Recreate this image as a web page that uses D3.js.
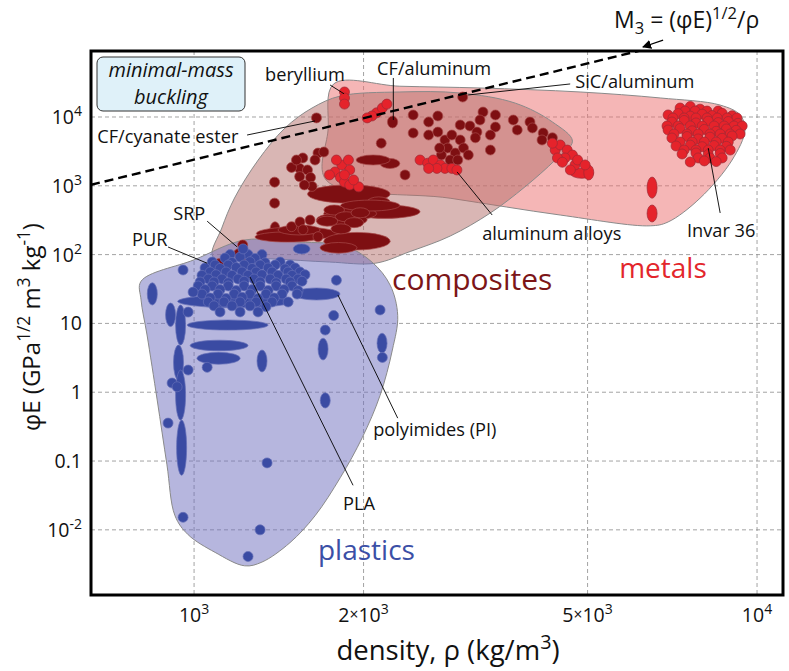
<!DOCTYPE html>
<html>
<head>
<meta charset="utf-8">
<script src="https://cdn.jsdelivr.net/npm/d3@7"></script>
<style>
  body { margin: 0; background: #fff; }
  svg { font-family: 'Open Sans', sans-serif; }
</style>
</head>
<body>
<div id="chart"></div>
<script>
// ---- data (density kg/m3, phiE GPa^1/2 m3 kg^-1) ----
const gridX = [1000, 2000, 5000, 10000];
const gridY = [0.01, 0.1, 1, 10, 100, 1000, 10000];
const xTickLabels = [
  [['10', ''], ['3', 'sup']],
  [['2', ''], ['×', 'x'], ['10', ''], ['3', 'sup']],
  [['5', ''], ['×', 'x'], ['10', ''], ['3', 'sup']],
  [['10', ''], ['4', 'sup']]
];
const yTickLabels = [
  [['10', ''], ['-2', 'sup']],
  [['0.1', '']],
  [['1', '']],
  [['10', '']],
  [['10', ''], ['2', 'sup']],
  [['10', ''], ['3', 'sup']],
  [['10', ''], ['4', 'sup']]
];

// material family envelopes
const metalsHull = [
  [1770, 30200], [2320, 28000], [3220, 26400], [4850, 23100], [6730, 18900],
  [8600, 14900], [9330, 10700], [9520, 6470], [9030, 2370], [7920, 660],
  [6950, 298], [6460, 262], [4470, 376], [2850, 660], [1716, 1215], [1730, 6470]
];
const compositesHull = [
  [1080, 93], [1120, 243], [1180, 665], [1300, 2370], [1450, 6900], [1620, 13500],
  [1820, 20200], [2320, 23100], [2970, 22300], [3720, 15900], [4330, 8470],
  [4700, 4460], [4380, 2370], [3870, 965], [3360, 403], [2850, 186], [2420, 111],
  [2100, 75], [1740, 78], [1365, 87]
];
const plasticsHull = [
  [805, 41], [1000, 84], [1230, 163], [1540, 152], [1850, 134], [2070, 78],
  [2230, 36], [2300, 13], [2250, 4.1], [2140, 0.9], [1990, 0.22], [1820, 0.058],
  [1640, 0.016], [1480, 0.0065], [1320, 0.0034], [1230, 0.003], [1090, 0.0047],
  [976, 0.0085], [925, 0.016], [895, 0.088], [860, 0.77], [825, 6.8], [805, 22]
];

// single materials: points [rho, phiE], ranges [rhoLo, rhoHi, eLo, eHi]
const compositePoints = [
  [1650, 9700], [3000, 19500],
  [2450, 10700], [2610, 8470], [2710, 10350], [2450, 5850], [2610, 5470], [2710, 6040],
  [2970, 7650], [3090, 7400], [3260, 11800], [3430, 10700], [3220, 9040], [3430, 7150],
  [3360, 5470], [3180, 6040], [3160, 4990], [3690, 9040], [3750, 6470], [3950, 8470],
  [3990, 6930], [4170, 5850], [4150, 4630], [4330, 4990], [3360, 3310],
  [2790, 4630], [2870, 5470], [2970, 4630], [2820, 3540], [2910, 2990], [3010, 3540],
  [3070, 2800], [2750, 2800], [2850, 2370], [2940, 2370], [2730, 3540],
  [2370, 1440], [2150, 4160],
  [1560, 2540], [1540, 1790], [1540, 1360], [1590, 1700], [1610, 1320], [1620, 980],
  [1490, 1850], [1660, 2990], [1700, 3100], [1640, 2370], [1570, 1030], [1520, 2370],
  [1390, 1130], [1390, 560], [1490, 255], [1660, 182], [1542, 298], [1607, 318], [1561, 230],
  [1220, 138], [1200, 103], [1225, 93], [1110, 74]
];
const compositeRanges = [
  [2205, 2300, 6930, 10350], [2140, 2320, 1880, 2370], [1940, 2230, 2010, 2800],
  [1375, 1410, 180, 300], [1590, 2230, 560, 1030], [1890, 2520, 336, 526],
  [2030, 2230, 490, 690], [1700, 2110, 318, 490], [1650, 2030, 255, 405],
  [1290, 1800, 163, 252], [1283, 1674, 152, 214], [1410, 1674, 193, 270],
  [1700, 2230, 117, 210], [1674, 1948, 105, 150], [1820, 2320, 430, 620],
  [1700, 1850, 380, 520], [1780, 1950, 300, 420], [1850, 2000, 250, 340],
  [1750, 1900, 200, 280], [1900, 2050, 350, 470], [1650, 1800, 260, 360]
];
const metalPoints = [
  [1850, 23100], [1850, 18900], [1850, 15400],
  [2110, 11500], [2160, 13500], [2200, 15400], [2070, 10350], [2030, 9700],
  [1780, 1590], [1820, 1320], [1850, 1130], [1890, 1030], [1960, 965], [1830, 2010],
  [1880, 2370], [1890, 1700], [1790, 2370], [1740, 1440], [1850, 1440], [1920, 1215],
  [2520, 2370], [2600, 2130], [2660, 2370], [2740, 2010], [2790, 1790], [2870, 1790],
  [2700, 1790], [2930, 1700], [2610, 1790],
  [4380, 3310], [4470, 3920], [4600, 3310], [4700, 2800], [4560, 2540], [4420, 2540],
  [4750, 2010], [4660, 1700], [4510, 2200], [4800, 2370], [4950, 2010], [4330, 4160],
  // Invar / steels cluster
  [7300, 13500], [7610, 14200], [7920, 13000],
  [7450, 12200], [7760, 12200], [8150, 12200], [8530, 12200],
  [6950, 10700], [7240, 11200], [7610, 10300], [7990, 11000], [8320, 10500], [8670, 11300], [9030, 10400],
  [7090, 9670], [7420, 9670], [7790, 9670], [8150, 9670], [8500, 9670], [8850, 9670], [9210, 9670],
  [7060, 8460], [7420, 8900], [7790, 8200], [8190, 8700], [8530, 8300], [8890, 8600], [9250, 8100],
  [6920, 7400], [7240, 7400], [7610, 7400], [7990, 7400], [8390, 7400], [8740, 7400], [9100, 7400], [9410, 7400],
  [6950, 6470], [7300, 6800], [7670, 6300], [8060, 6600], [8460, 6200], [8820, 6700], [9180, 6400],
  [7120, 5660], [7510, 5660], [7860, 5660], [8250, 5660], [8600, 5660], [8960, 5660], [9330, 5660],
  [7060, 4950], [7510, 5200], [7860, 4800], [8250, 5100], [8670, 4900], [9030, 5300],
  [7300, 4330], [7670, 4330], [8060, 4330], [8460, 4330], [8890, 4330],
  [7180, 3790], [7610, 3900], [7990, 3700], [8390, 3850], [8820, 3750],
  [7420, 3310], [7790, 3310], [8190, 3310], [8600, 3310], [8960, 3310],
  [7360, 2900], [7790, 3000], [8190, 2850], [8600, 2950],
  [7860, 2540], [8250, 2540], [8670, 2540],
  [7610, 2220], [8060, 2300], [8460, 2250]
];
const metalRanges = [
  [4660, 5120, 1360, 1700], [4960, 5090, 1215, 2010],
  [6430, 6590, 660, 1340], [6430, 6590, 298, 526]
];
const plasticPoints = [
  [1159, 100], [1247, 100], [1320, 100],
  [1135, 89], [1207, 92], [1283, 88],
  [1077, 78], [1168, 77], [1257, 79], [1337, 76], [1422, 78],
  [1090, 70.6], [1150, 70.6], [1227, 70.6], [1310, 70.6], [1393, 70.6], [1481, 70.6],
  [1046, 64], [1112, 63], [1188, 65], [1268, 63], [1354, 64], [1451, 62], [1512, 64],
  [1068, 55.9], [1140, 55.9], [1217, 55.9], [1289, 55.9], [1376, 55.9], [1469, 55.9], [1542, 55.9],
  [1033, 50], [1094, 51], [1168, 50], [1247, 50], [1320, 51], [1410, 50], [1493, 50], [1574, 51],
  [1060, 44.2], [1121, 44.2], [1197, 44.2], [1278, 44.2], [1365, 44.2], [1457, 44.2], [1530, 44.2],
  [1025, 40], [1085, 40], [1150, 39], [1227, 41], [1310, 40], [1399, 39], [1481, 40], [1555, 41],
  [1017, 35], [1077, 35], [1150, 35], [1227, 35], [1310, 35], [1399, 35], [1493, 35],
  [1046, 31], [1112, 31], [1188, 30], [1268, 31], [1354, 30], [1445, 31], [1530, 30],
  [1033, 26.7], [1103, 26.7], [1178, 26.7], [1257, 26.7], [1342, 26.7], [1433, 26.7], [1524, 26.7],
  [1068, 23.5], [1140, 23], [1217, 24], [1299, 23], [1388, 23.5],
  [1060, 20.5], [1130, 20.5], [1207, 20.5], [1289, 20.5], [1376, 20.5], [1469, 20.5],
  [1085, 18], [1168, 18], [1257, 18], [1342, 17.5],
  [1112, 14.7], [1207, 14.7], [1299, 14.7],
  [1222, 121], [1770, 13], [1710, 8.0], [2140, 15.7], [2160, 3.2],
  [1348, 0.094], [1310, 0.010], [1247, 0.0041], [956, 0.0152],
  [914, 1.36], [899, 0.356], [956, 59.8], [996, 28.5], [976, 14.6],
  [1055, 2.3], [976, 2.1], [933, 1.2]
];
const plasticRanges = [
  [935, 1500, 16.9, 25.9], [972, 1354, 8.0, 11.2], [984, 1247, 4.0, 5.7],
  [1012, 1207, 2.55, 3.8], [1500, 1816, 21.9, 32.7], [1299, 1342, 1.97, 4.11],
  [1500, 1607, 106, 138], [1770, 1810, 36, 50], [1674, 1716, 2.94, 6.1],
  [1690, 1730, 0.59, 0.98], [2130, 2185, 3.71, 7.2],
  [929, 964, 4.85, 18.5], [921, 956, 1.5, 4.85], [929, 964, 0.394, 2.1],
  [933, 968, 0.062, 0.394], [829, 857, 18.5, 39], [892, 925, 9.0, 19.8]
];

// performance index line, phiE = (M3 * rho)^2
const m3 = 0.049;

const annotations = [
  { text: 'beryllium', at: [1337, 33300], from: [1744, 29200], to: [1847, 21700] },
  { text: 'CF/aluminum', at: [2114, 40800], from: [2259, 36900], to: [2259, 9040] },
  { text: 'SiC/aluminum', at: [4753, 26400], from: [4657, 30200], to: [3068, 20900] },
  { text: 'CF/cyanate ester', at: [673, 4190], from: [1242, 5470], to: [1640, 8750] },
  { text: 'aluminum alloys', at: [3249, 163], from: [2932, 1590], to: [3385, 376] },
  { text: 'Invar 36', at: [7510, 182], from: [8190, 3540], to: [8600, 403] },
  { text: 'SRP', at: [918, 318], from: [1055, 306], to: [1193, 129] },
  { text: 'PUR', at: [776, 133], from: [899, 129], to: [1055, 75] },
  { text: 'polyimides (PI)', at: [2080, 0.231], from: [1801, 25.9], to: [2300, 0.42] },
  { text: 'PLA', at: [1839, 0.0194], from: [1257, 47.3], to: [1916, 0.0444] }
];

const families = [
  { name: 'composites', at: [2247, 30.6], color: '#7c1518', size: 30 },
  { name: 'metals', at: [5690, 46], color: '#e3262b', size: 28 },
  { name: 'plastics', at: [1660, 0.0036], color: '#3b4fa6', size: 28 }
];

// ---- chart ----
const width = 789;
const height = 671;
const plot = { left: 91, top: 51, right: 783, bottom: 595 };

const x = d3.scaleLog().domain([656, 11120]).range([plot.left, plot.right]);
const y = d3.scaleLog().domain([0.00113, 91000]).range([plot.bottom, plot.top]);

const svg = d3
  .select('#chart')
  .append('svg')
  .attr('width', width)
  .attr('height', height);

svg
  .append('clipPath')
  .attr('id', 'plot-clip')
  .append('rect')
  .attr('x', plot.left)
  .attr('y', plot.top)
  .attr('width', plot.right - plot.left)
  .attr('height', plot.bottom - plot.top);

// superscript / subscript helper
const styles = { sup: [-0.4, 0.72], sub: [0.28, 0.72], x: [-0.12, 0.8] };
function rich(sel, parts, fs) {
  let shift = 0;
  parts.forEach(([s, kind]) => {
    const [off, scale] = kind ? styles[kind] : [0, 1];
    const t = sel.append('tspan').text(s);
    if (off !== shift) t.attr('dy', ((off - shift) * fs).toFixed(2));
    if (kind) t.attr('font-size', fs * scale);
    shift = off;
  });
}

const g = svg.append('g').attr('clip-path', 'url(#plot-clip)');

// grid
g.selectAll('.gx')
  .data(gridX)
  .enter()
  .append('line')
  .attr('x1', (d) => x(d))
  .attr('x2', (d) => x(d))
  .attr('y1', plot.top)
  .attr('y2', plot.bottom)
  .attr('stroke', '#8c8c8c')
  .attr('stroke-width', 0.8)
  .attr('stroke-dasharray', '4,3');

g.selectAll('.gy')
  .data(gridY)
  .enter()
  .append('line')
  .attr('x1', plot.left)
  .attr('x2', plot.right)
  .attr('y1', (d) => y(d))
  .attr('y2', (d) => y(d))
  .attr('stroke', '#8c8c8c')
  .attr('stroke-width', 0.8)
  .attr('stroke-dasharray', '4,3');

// envelopes
const hull = d3
  .line()
  .x((d) => x(d[0]))
  .y((d) => y(d[1]))
  .curve(d3.curveCatmullRomClosed.alpha(0.5));

[
  [metalsHull, 'rgb(235,110,110)'],
  [compositesHull, 'rgb(180,110,106)'],
  [plasticsHull, 'rgb(110,110,190)']
].forEach(([pts, fill]) => {
  g.append('path')
    .attr('d', hull(pts))
    .attr('fill', fill)
    .attr('fill-opacity', 0.5)
    .attr('stroke', '#8a8a8a')
    .attr('stroke-width', 1);
});

// materials
const r = 5;
function drawFamily(points, ranges, fill, stroke) {
  g.append('g')
    .selectAll('ellipse')
    .data(ranges)
    .enter()
    .append('ellipse')
    .attr('cx', (d) => x(Math.sqrt(d[0] * d[1])))
    .attr('cy', (d) => y(Math.sqrt(d[2] * d[3])))
    .attr('rx', (d) => Math.max(r, (x(d[1]) - x(d[0])) / 2))
    .attr('ry', (d) => Math.max(r, (y(d[2]) - y(d[3])) / 2))
    .attr('fill', fill)
    .attr('stroke', stroke)
    .attr('stroke-width', 0.7);

  g.append('g')
    .selectAll('circle')
    .data(points)
    .enter()
    .append('circle')
    .attr('cx', (d) => x(d[0]))
    .attr('cy', (d) => y(d[1]))
    .attr('r', r)
    .attr('fill', fill)
    .attr('stroke', stroke)
    .attr('stroke-width', 0.7);
}

drawFamily(compositePoints, compositeRanges, '#7e0f12', '#a84a4a');
drawFamily(metalPoints, metalRanges, '#e5232b', '#9e2a35');
drawFamily(plasticPoints, plasticRanges, '#3a4ba3', '#6670b8');

// M3 guide line
const rhoStart = x.domain()[0];
const rhoEnd = Math.sqrt(y.domain()[1]) / m3;
g.append('line')
  .attr('x1', x(rhoStart))
  .attr('y1', y((m3 * rhoStart) ** 2))
  .attr('x2', x(rhoEnd))
  .attr('y2', y((m3 * rhoEnd) ** 2))
  .attr('stroke', '#000')
  .attr('stroke-width', 2.4)
  .attr('stroke-dasharray', '9,5');

// annotations
annotations.forEach((a) => {
  g.append('line')
    .attr('x1', x(a.from[0]))
    .attr('y1', y(a.from[1]))
    .attr('x2', x(a.to[0]))
    .attr('y2', y(a.to[1]))
    .attr('stroke', '#000')
    .attr('stroke-width', 0.9);
  g.append('text')
    .attr('x', x(a.at[0]))
    .attr('y', y(a.at[1]))
    .attr('font-size', 18.2)
    .attr('fill', '#111')
    .text(a.text);
});

families.forEach((f) => {
  g.append('text')
    .attr('x', x(f.at[0]))
    .attr('y', y(f.at[1]))
    .attr('font-size', f.size)
    .attr('fill', f.color)
    .text(f.name);
});

// minimal-mass buckling box
const box = svg.append('g').attr('transform', `translate(${plot.left + 6},${plot.top + 6})`);
box
  .append('rect')
  .attr('width', 148)
  .attr('height', 54)
  .attr('rx', 6)
  .attr('fill', '#dff1f9')
  .attr('stroke', '#333')
  .attr('stroke-width', 1);
['minimal-mass', 'buckling'].forEach((s, i) => {
  box
    .append('text')
    .attr('x', 74)
    .attr('y', 20 + i * 27)
    .attr('text-anchor', 'middle')
    .attr('font-size', 20)
    .attr('font-style', 'italic')
    .attr('fill', '#111')
    .text(s);
});

// frame
svg
  .append('rect')
  .attr('x', plot.left)
  .attr('y', plot.top)
  .attr('width', plot.right - plot.left)
  .attr('height', plot.bottom - plot.top)
  .attr('fill', 'none')
  .attr('stroke', '#000')
  .attr('stroke-width', 3);

// tick labels
gridX.forEach((v, i) => {
  const t = svg
    .append('text')
    .attr('x', x(v))
    .attr('y', plot.bottom + 27)
    .attr('text-anchor', 'middle')
    .attr('font-size', 19.5)
    .attr('fill', '#111');
  rich(t, xTickLabels[i], 19.5);
});

gridY.forEach((v, i) => {
  const t = svg
    .append('text')
    .attr('x', plot.left - 9)
    .attr('y', y(v) + 7)
    .attr('text-anchor', 'end')
    .attr('font-size', 19.5)
    .attr('fill', '#111');
  rich(t, yTickLabels[i], 19.5);
});

// axis titles
const xt = svg
  .append('text')
  .attr('x', 448)
  .attr('y', 660)
  .attr('text-anchor', 'middle')
  .attr('font-size', 27.5)
  .attr('fill', '#111');
rich(xt, [['density, ρ (kg/m', ''], ['3', 'sup'], [')', '']], 27.5);

const yt = svg
  .append('text')
  .attr('transform', 'translate(40,327) rotate(-90)')
  .attr('text-anchor', 'middle')
  .attr('font-size', 24)
  .attr('fill', '#111');
rich(yt, [['φE (GPa', ''], ['1/2', 'sup'], [' m', ''], ['3', 'sup'], [' kg', ''], ['-1', 'sup'], [')', '']], 24);

// M3 label and arrow
const mt = svg
  .append('text')
  .attr('x', 614)
  .attr('y', 28)
  .attr('font-size', 23)
  .attr('fill', '#111');
rich(mt, [['M', ''], ['3', 'sub'], [' = (φE)', ''], ['1/2', 'sup'], ['/ρ', '']], 23);

svg
  .append('defs')
  .append('marker')
  .attr('id', 'arrow')
  .attr('viewBox', '0 0 10 10')
  .attr('refX', 9)
  .attr('refY', 5)
  .attr('markerWidth', 7)
  .attr('markerHeight', 7)
  .attr('orient', 'auto')
  .append('path')
  .attr('d', 'M0,0L10,5L0,10z')
  .attr('fill', '#000');

svg
  .append('line')
  .attr('x1', x(6810))
  .attr('y1', y(131000))
  .attr('x2', x(6270))
  .attr('y2', y(104000))
  .attr('stroke', '#000')
  .attr('stroke-width', 1.3)
  .attr('marker-end', 'url(#arrow)');
</script>
</body>
</html>
